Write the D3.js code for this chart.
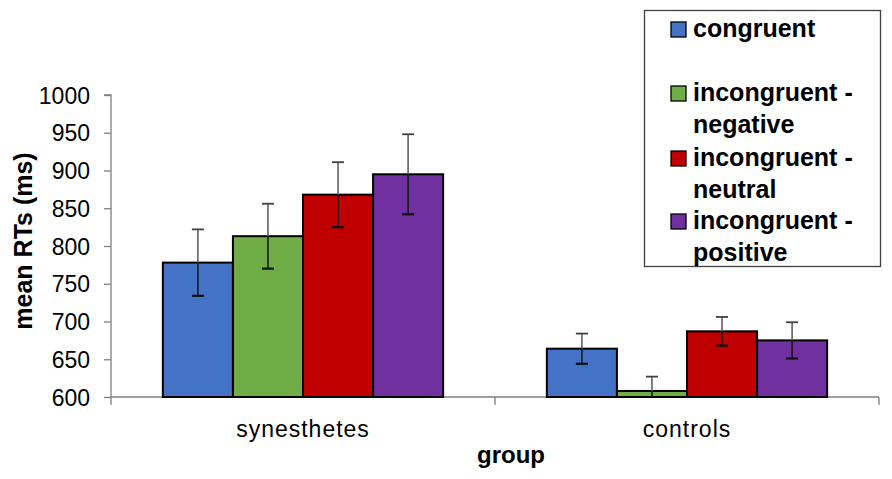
<!DOCTYPE html>
<html>
<head>
<meta charset="utf-8">
<script src="https://cdn.jsdelivr.net/npm/d3@7"></script>
<style>
  body { margin: 0; background: #fff; }
  text { font-family: "Liberation Sans", Arial, sans-serif; }
</style>
</head>
<body>
<svg id="chart" width="892" height="479"></svg>
<script>
var groups = ['synesthetes', 'controls'];
var conditions = ['congruent', 'incongruent - negative', 'incongruent - neutral', 'incongruent - positive'];
var synesthetesMeans = [778, 813, 868, 895];
var synesthetesErrors = [44, 43, 43, 53];
var controlsMeans = [664, 608, 687, 675];
var controlsErrors = [20, 19, 19, 24];
var yTicks = [600, 650, 700, 750, 800, 850, 900, 950, 1000];
var colors = ['#4472C4', '#70AD47', '#C00000', '#7030A0'];

var means = [synesthetesMeans, controlsMeans];
var errors = [synesthetesErrors, controlsErrors];

var svg = d3.select('#chart');

var xScale = d3.scaleBand().domain(groups).range([111, 879]).paddingInner(0).paddingOuter(0);
var barScale = d3.scaleBand().domain(conditions).range([0, xScale.bandwidth()]).paddingOuter(0.74).paddingInner(0);
var yScale = d3.scaleLinear().domain([600, 1000]).range([397, 95]);

// y axis
var yAxis = d3.axisLeft(yScale).tickValues(yTicks).tickFormat(d3.format('d')).tickSize(7).tickPadding(14);
var yg = svg.append('g').attr('transform', 'translate(111,0)').call(yAxis);
yg.selectAll('path, line').attr('stroke', '#808080').attr('stroke-width', 1.3);
yg.select('.domain').attr('d', 'M-7,95H0V397');
yg.selectAll('text').attr('font-size', 23).attr('fill', '#000').attr('dy', '0.35em');

// x axis
var xg = svg.append('g').attr('transform', 'translate(0,397)');
xg.append('line').attr('x1', 111).attr('x2', 879).attr('stroke', '#808080').attr('stroke-width', 1.3);
xg.selectAll('.tick').data([xScale.range()[0], xScale('controls'), xScale.range()[1]]).enter()
  .append('line').attr('x1', function(d) { return d; }).attr('x2', function(d) { return d; })
  .attr('y1', 0).attr('y2', 8).attr('stroke', '#808080').attr('stroke-width', 1.3);
xg.selectAll('.label').data(groups).enter().append('text')
  .attr('x', function(d) { return xScale(d) + xScale.bandwidth() / 2; })
  .attr('y', 40).attr('text-anchor', 'middle').attr('font-size', 23).attr('letter-spacing', 1)
  .text(function(d) { return d; });

// bars
groups.forEach(function(g, gi) {
  var grp = svg.append('g').attr('transform', 'translate(' + xScale(g) + ',0)');
  conditions.forEach(function(c, ci) {
    var v = means[gi][ci];
    grp.append('rect')
      .attr('x', barScale(c))
      .attr('y', yScale(v))
      .attr('width', barScale.bandwidth())
      .attr('height', yScale(600) - yScale(v))
      .attr('fill', colors[ci])
      .attr('stroke', '#000')
      .attr('stroke-width', 2);
  });
  conditions.forEach(function(c, ci) {
    var v = means[gi][ci];
    var e = errors[gi][ci];
    var cx = barScale(c) + barScale.bandwidth() / 2;
    var lo = Math.max(600, v - e);
    grp.append('line').attr('x1', cx).attr('x2', cx)
      .attr('y1', yScale(v + e)).attr('y2', yScale(v))
      .attr('stroke', '#606060').attr('stroke-width', 1.6);
    grp.append('line').attr('x1', cx).attr('x2', cx)
      .attr('y1', yScale(v)).attr('y2', yScale(lo))
      .attr('stroke', '#1a1a1a').attr('stroke-width', 1.6);
    grp.append('line').attr('x1', cx - 6).attr('x2', cx + 6)
      .attr('y1', yScale(v + e)).attr('y2', yScale(v + e))
      .attr('stroke', '#404040').attr('stroke-width', 1.8);
    if (v - e > 600) {
      grp.append('line').attr('x1', cx - 6).attr('x2', cx + 6)
        .attr('y1', yScale(v - e)).attr('y2', yScale(v - e))
        .attr('stroke', '#111').attr('stroke-width', 2.2);
    }
  });
});

// axis titles
svg.append('text').attr('x', 511).attr('y', 463).attr('text-anchor', 'middle')
  .attr('font-size', 24).attr('font-weight', 'bold').text('group');
svg.append('text').attr('transform', 'translate(32,241) rotate(-90)').attr('text-anchor', 'middle')
  .attr('font-size', 25).attr('font-weight', 'bold').text('mean RTs (ms)');

// legend
var legend = svg.append('g');
legend.append('rect').attr('x', 644.5).attr('y', 10.5).attr('width', 236).attr('height', 256)
  .attr('fill', '#fff').attr('stroke', '#404040').attr('stroke-width', 1.3);
var legendRows = [
  [['congruent'], 37],
  [['incongruent -', 'negative'], 101],
  [['incongruent -', 'neutral'], 166],
  [['incongruent -', 'positive'], 229]
];
legendRows.forEach(function(row, i) {
  legend.append('rect').attr('x', 671).attr('y', row[1] - 15).attr('width', 15).attr('height', 15)
    .attr('fill', colors[i]).attr('stroke', '#000').attr('stroke-width', 1.3);
  row[0].forEach(function(t, j) {
    legend.append('text').attr('x', 693).attr('y', row[1] + j * 32)
      .attr('font-size', 25).attr('font-weight', 'bold').text(t);
  });
});
</script>
</body>
</html>
